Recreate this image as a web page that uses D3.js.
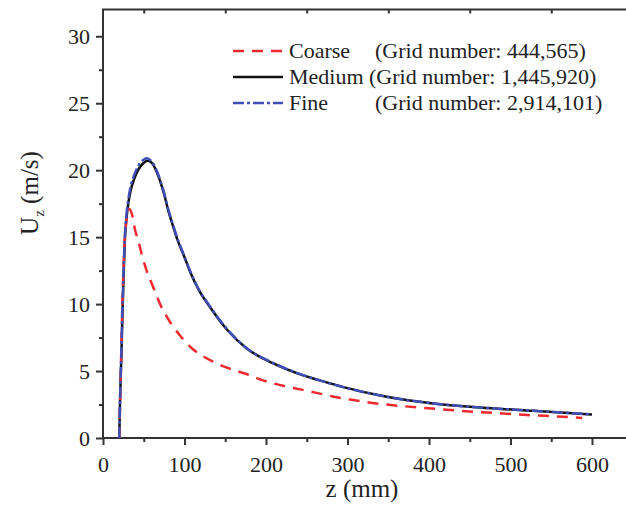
<!DOCTYPE html>
<html>
<head>
<meta charset="utf-8">
<script src="https://cdn.jsdelivr.net/npm/d3@7"></script>
<style>
  html, body { margin: 0; background: #fff; overflow: hidden; }
  svg { display: block; }
  svg text { font-family: "Liberation Serif", "Times New Roman", serif; fill: #222; }
  .axis path, .axis line { stroke: #333; stroke-width: 2; }
</style>
</head>
<body>
<div id="chart"></div>
<script>
// data
var zCoarse = [20, 21.5, 23, 24.5, 26, 28, 30, 32.5, 36, 39.5, 43, 48, 53, 58, 64, 70, 77, 84, 92, 100, 110, 123, 135, 148, 162, 176, 192, 209, 225, 242, 262, 282, 303, 333, 364, 395, 426, 456, 487, 520, 555, 588];
var uCoarse = [0, 4, 8, 11.5, 14, 15.8, 16.7, 17.1, 16.6, 15.5, 14.8, 13.6, 12.6, 11.8, 10.9, 10.0, 9.2, 8.5, 7.85, 7.25, 6.65, 6.1, 5.7, 5.35, 5.05, 4.78, 4.4, 4.08, 3.85, 3.63, 3.37, 3.1, 2.87, 2.6, 2.4, 2.24, 2.09, 1.96, 1.84, 1.72, 1.61, 1.5];

var zMedium = [20, 21, 22.5, 24, 25.5, 27, 29, 31, 34, 38, 43, 49, 55, 60, 65, 70, 75, 80, 85, 92, 100, 107, 118, 131, 152, 176, 209, 242, 266, 295, 348, 405, 463, 528, 600];
var uMedium = [0, 3, 6, 9.5, 12.5, 15, 16.5, 17.5, 18.5, 19.3, 20.0, 20.5, 20.7, 20.55, 20.0, 19.2, 18.2, 17.0, 16.0, 14.7, 13.5, 12.4, 11.0, 9.8, 8.1, 6.7, 5.57, 4.75, 4.3, 3.8, 3.08, 2.58, 2.28, 2.03, 1.75];

var zFine = [20, 21, 22.5, 24, 25.5, 27, 29, 31, 34, 38, 43, 49, 54, 59, 65, 70, 75, 80, 85, 92, 100, 107, 118, 131, 152, 176, 209, 242, 266, 295, 348, 405, 463, 528, 600];
var uFine = [0, 3.2, 6.4, 10, 13, 15.3, 16.8, 17.8, 18.8, 19.6, 20.3, 20.75, 20.9, 20.7, 20.1, 19.3, 18.3, 17.1, 16.1, 14.8, 13.55, 12.45, 11.05, 9.85, 8.15, 6.72, 5.6, 4.77, 4.3, 3.8, 3.08, 2.58, 2.28, 2.03, 1.76];

var xMajor = [0, 100, 200, 300, 400, 500, 600];
var xMinor = [50, 150, 250, 350, 450, 550];
var yMajor = [0, 5, 10, 15, 20, 25, 30];
var yMinor = [2.5, 7.5, 12.5, 17.5, 22.5, 27.5];

var legendNames = ["Coarse", "Medium", "Fine"];
var legendGrids = ["(Grid number: 444,565)", "(Grid number: 1,445,920)", "(Grid number: 2,914,101)"];

var width = 626, height = 512;
var plotLeft = 103, plotTop = 9.5, plotBottom = 438;

var x = d3.scaleLinear().domain([0, 650]).range([plotLeft, plotLeft + 650 * 0.815]);
var y = d3.scaleLinear().domain([0, 32]).range([plotBottom, plotTop]);

var svg = d3.select("#chart").append("svg")
	.attr("width", width)
	.attr("height", height);

// frame: left, top, bottom (right side falls outside the picture)
svg.append("path")
	.attr("d", "M" + x(650) + "," + y(32) + "H" + x(0) + "V" + y(0) + "H" + x(650))
	.attr("fill", "none").attr("stroke", "#333").attr("stroke-width", 2);

// bottom axis
svg.append("g").attr("class", "axis").attr("transform", "translate(0," + plotBottom + ")")
	.call(d3.axisBottom(x).tickValues(xMajor).tickSize(7).tickSizeOuter(0).tickPadding(8))
	.call(function(g) {
		g.selectAll("text").attr("font-size", 22).attr("dy", "0.85em");
	});
svg.append("g").attr("class", "axis").attr("transform", "translate(0," + plotBottom + ")")
	.call(d3.axisBottom(x).tickValues(xMinor).tickSize(4).tickSizeOuter(0).tickFormat(""));

// top ticks (inward)
svg.append("g").attr("class", "axis").attr("transform", "translate(0," + plotTop + ")")
	.call(d3.axisTop(x).tickValues(xMinor).tickSize(-4).tickSizeOuter(0).tickFormat(""));

// left axis
svg.append("g").attr("class", "axis").attr("transform", "translate(" + plotLeft + ",0)")
	.call(d3.axisLeft(y).tickValues(yMajor).tickSize(7).tickSizeOuter(0).tickPadding(6))
	.call(function(g) {
		g.selectAll("text").attr("font-size", 22);
	});
svg.append("g").attr("class", "axis").attr("transform", "translate(" + plotLeft + ",0)")
	.call(d3.axisLeft(y).tickValues(yMinor).tickSize(4).tickSizeOuter(0).tickFormat(""));

// the frame path already draws the axis lines
svg.selectAll(".axis .domain").remove();

// axis titles
svg.append("text")
	.attr("x", 362).attr("y", 497)
	.attr("text-anchor", "middle")
	.attr("font-size", 25)
	.text("z (mm)");

var ylab = svg.append("text")
	.attr("transform", "translate(38,193) rotate(-90)")
	.attr("text-anchor", "middle")
	.attr("font-size", 25);
ylab.append("tspan").text("U");
ylab.append("tspan").attr("font-size", 15).attr("dy", 6).text("z");
ylab.append("tspan").attr("dy", -6).text(" (m/s)");

// curves
var line = d3.line()
	.x(function(d) { return x(d[0]); })
	.y(function(d) { return y(d[1]); })
	.curve(d3.curveMonotoneX);

var series = [
	{ z: zMedium, u: uMedium, color: "#111", dash: null },
	{ z: zCoarse, u: uCoarse, color: "#ee2a2f", dash: "11,8" },
	{ z: zFine, u: uFine, color: "#4050b8", dash: "11,3,3,3" }
];

svg.selectAll("path.curve")
	.data(series)
	.enter()
	.append("path")
	.attr("class", "curve")
	.attr("fill", "none")
	.attr("stroke", function(d) { return d.color; })
	.attr("stroke-width", 2.5)
	.attr("stroke-dasharray", function(d) { return d.dash; })
	.attr("d", function(d) {
		return line(d.z.map(function(v, i) { return [v, d.u[i]]; }));
	});

// legend
var legendStyles = [
	{ color: "#ee2a2f", dash: "11,8" },
	{ color: "#111", dash: null },
	{ color: "#4050b8", dash: "11,3,3,3" }
];
var legendY = [51, 77, 103];

legendNames.forEach(function(name, i) {
	svg.append("line")
		.attr("x1", 233).attr("x2", 283)
		.attr("y1", legendY[i]).attr("y2", legendY[i])
		.attr("stroke", legendStyles[i].color)
		.attr("stroke-width", 2.5)
		.attr("stroke-dasharray", legendStyles[i].dash);
	svg.append("text")
		.attr("x", 289).attr("y", legendY[i] + 7)
		.attr("font-size", 22)
		.text(name);
	svg.append("text")
		.attr("x", i == 1 ? 369 : 375).attr("y", legendY[i] + 7)
		.attr("font-size", 22)
		.text(legendGrids[i]);
});
</script>
</body>
</html>
